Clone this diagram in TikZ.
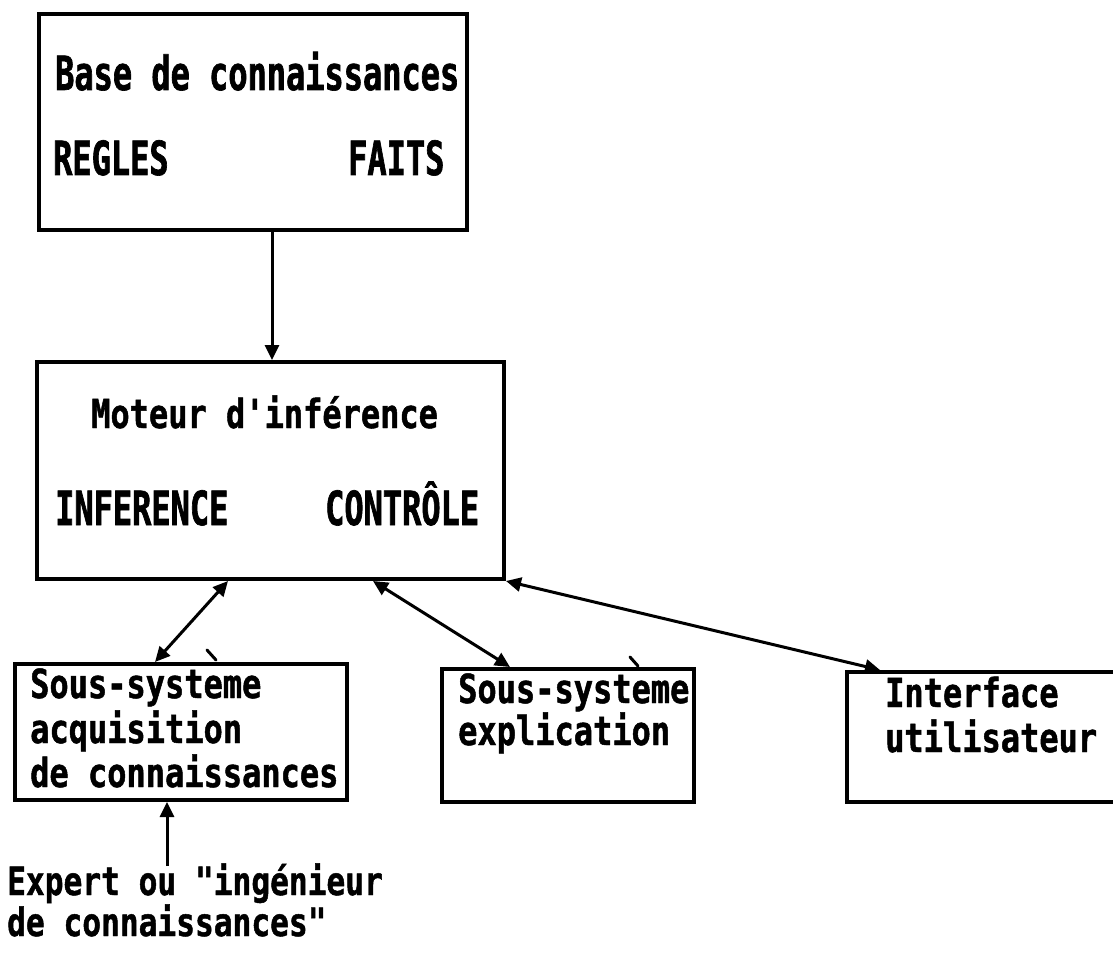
\documentclass[tikz,border=0pt]{standalone}
\usepackage{fontspec}
\usetikzlibrary{arrows.meta,calc}
% condensed heavy monospace faces, as on a dot-matrix printout
\newfontfamily\monotxt[FakeStretch=0.8,FakeBold=1.2]{DejaVu Sans Mono}
\newfontfamily\monobig[FakeStretch=0.68,FakeBold=1.4]{DejaVu Sans Mono}
\begin{document}
\begin{tikzpicture}[x=1pt,y=-1pt,
  box/.style={draw, line width=4pt, anchor=north west, inner sep=0pt},
  lab/.style={anchor=base west, inner sep=0pt, font=\monotxt\bfseries\fontsize{40}{44}\selectfont},
  smlab/.style={anchor=base west, inner sep=0pt, font=\monotxt\bfseries\fontsize{39}{40}\selectfont},
  biglab/.style={anchor=base west, inner sep=0pt, font=\monobig\bfseries\fontsize{47}{50}\selectfont},
  tip/.tip={Triangle[length=15pt,width=14pt]},
  arr/.style={line width=3pt, -tip},
  link/.style={line width=3pt, tip-tip},
  accent/.style={line width=3pt, line cap=round}]
\clip (0,0) rectangle (1113,965);
\fill[white] (0,0) rectangle (1113,965);

% boxes
\node[box, minimum width=428pt, minimum height=216pt] (kb)  at (37,12)  {};
\node[box, minimum width=467pt, minimum height=217pt] (mi)  at (35,360) {};
\node[box, minimum width=332pt, minimum height=136pt] (acq) at (13,662) {};
\node[box, minimum width=252pt, minimum height=133pt] (exp) at (440,667) {};
\node[box, minimum width=290pt, minimum height=130pt] (ui)  at (845,670) {};

% knowledge base
\node[biglab] (kbt) at (55,90)  {Base de connaissances};
\node[biglab] (kbr) at (53,175) {REGLES};
\node[biglab] (kbf) at (348,175) {FAITS};

% inference engine
\node[lab]    (mit) at (91,428)  {Moteur d'inférence};
\node[biglab] (mii) at (55,525)  {INFERENCE};
\node[biglab] (mic) at (325,525) {CONTRÔLE};

% sub-systems
\node[lab] (acq1) at (30,698) {Sous-systeme};
\node[lab] (acq2) at (30,743) {acquisition};
\node[lab] (acq3) at (30,787) {de connaissances};
\node[lab] (exp1) at (458,703) {Sous-systeme};
\node[lab] (exp2) at (458,745) {explication};
\node[lab] (ui1)  at (885,707) {Interface};
\node[lab] (ui2)  at (885,752) {utilisateur};

% expert
\node[smlab] (ex1) at (7,895) {Expert ou "ingénieur};
\node[smlab] (ex2) at (7,936) {de connaissances"};

% displaced grave accents of "systeme"
\draw[accent] ($(acq.north west)+(194,-12)$) -- ($(acq.north west)+(203,-2)$);
\draw[accent] ($(exp.north west)+(190,-10)$) -- ($(exp.north west)+(198,-1)$);

% connectors
\draw[arr] ($(kb.south west)+(235,0)$) coordinate (k1) -- (k1 |- mi.north);
\draw[link] ($(acq.north west)+(142,0)$) -- ($(mi.south west)+(193,0)$);
\draw[link] ($(mi.south west)+(338,0)$) -- ($(exp.north west)+(70,0)$);
\draw[link] (mi.south east) -- ($(ui.north west)+(35,0)$);
\coordinate (exa) at (167,866);
\draw[arr] (exa) -- (exa |- acq.south);
\end{tikzpicture}
\end{document}
